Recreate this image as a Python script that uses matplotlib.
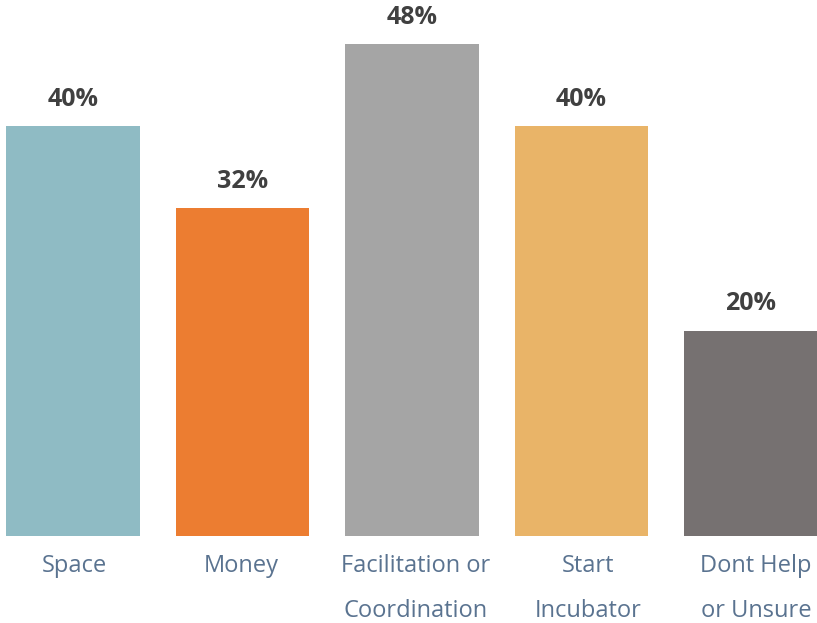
import matplotlib
matplotlib.use("Agg")
import matplotlib.pyplot as plt

categories = ["Space", "Money", "Facilitation or\nCoordination", "Start\nIncubator", "Dont Help\nor Unsure"]
values = [40, 32, 48, 40, 20]
value_labels = ["40%", "32%", "48%", "40%", "20%"]
colors = ["#8fbbc4", "#ec7d31", "#a5a5a5", "#e9b468", "#767171"]
label_shift = [1, -1, 4, 7, 5]  # pixel nudge of the category labels, as in the source

plt.rcParams["font.family"] = ["Open Sans", "DejaVu Sans"]

W, H = 817, 623
fig = plt.figure(figsize=(W / 100, H / 100), dpi=100)
ax = fig.add_axes([0, 87 / H, 1, 1 - 87 / H])

step = 169.5
x0 = 73 / step
ax.set_xlim(-x0, (W - 73) / step)
ax.set_ylim(0, 536 / 10.25)

xs = list(range(len(categories)))
bars = ax.bar(xs, values, width=0.79, color=colors)

for b, lab in zip(bars, value_labels):
    ax.annotate(lab, (b.get_x() + b.get_width() / 2, b.get_height()),
                xytext=(0, 27), textcoords="offset pixels", ha="center", va="center",
                fontsize=18, fontweight="bold", color="#404040")

for x, c, dx in zip(xs, categories, label_shift):
    ax.annotate(c, (x, 0), xytext=(dx, -18), textcoords="offset pixels", ha="center",
                va="top", fontsize=17, color="#5a7390", linespacing=2.15,
                annotation_clip=False)

ax.axis("off")
fig.savefig("out.png", dpi=100)
